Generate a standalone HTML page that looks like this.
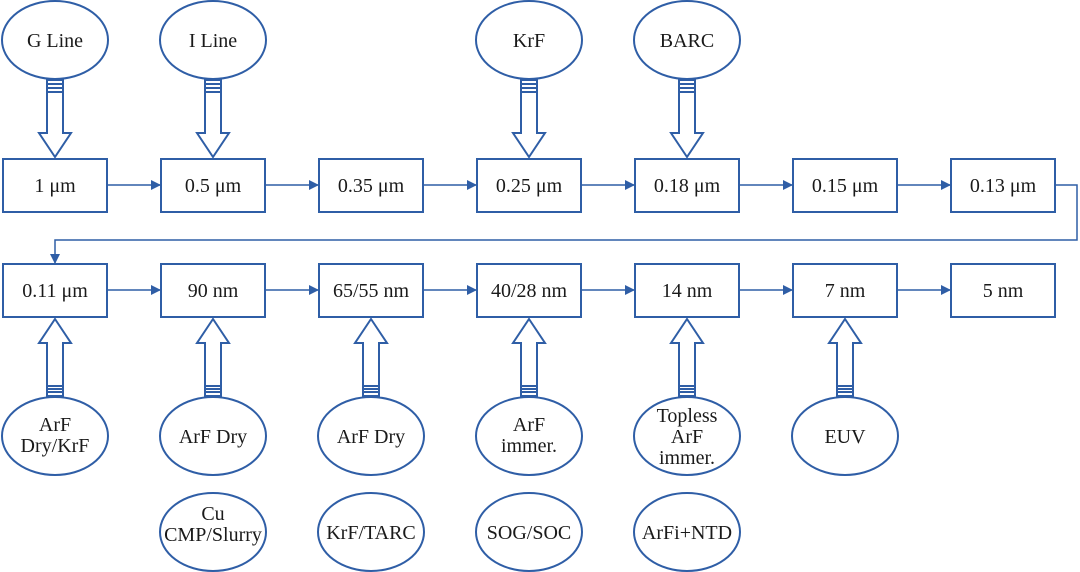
<!DOCTYPE html>
<html><head><meta charset="utf-8"><style>
html,body{margin:0;padding:0;background:#fff}
svg{display:block}
text{font-family:"Liberation Serif",serif;font-size:20px;fill:#1a1a1a;text-anchor:middle}
</style></head><body>
<svg width="1080" height="572" viewBox="0 0 1080 572" xmlns="http://www.w3.org/2000/svg">
<defs>
<marker id="ah" markerWidth="10" markerHeight="10" refX="9" refY="5" orient="auto" markerUnits="userSpaceOnUse">
<path d="M0,0 L10,5 L0,10 z" fill="#2f5ea6"/></marker>
<g id="dn" fill="#fff" stroke="#2f5ea6" stroke-width="2">
<rect x="-8" y="80" width="16" height="12"/>
<line x1="-8" y1="84" x2="8" y2="84"/><line x1="-8" y1="88" x2="8" y2="88"/>
<polygon points="-8,92 8,92 8,133 16,133 0,157 -16,133 -8,133"/>
</g>
<g id="up" fill="#fff" stroke="#2f5ea6" stroke-width="2">
<polygon points="0,319 16,343 8,343 8,386 -8,386 -8,343 -16,343"/>
<rect x="-8" y="386" width="16" height="10"/>
<line x1="-8" y1="389" x2="8" y2="389"/><line x1="-8" y1="392" x2="8" y2="392"/>
</g>
</defs>
<g fill="none" stroke="#2f5ea6" stroke-width="2">
<ellipse cx="55" cy="40" rx="53" ry="39"/>
<ellipse cx="213" cy="40" rx="53" ry="39"/>
<ellipse cx="529" cy="40" rx="53" ry="39"/>
<ellipse cx="687" cy="40" rx="53" ry="39"/>
<rect x="3" y="159" width="104" height="53"/>
<rect x="161" y="159" width="104" height="53"/>
<rect x="319" y="159" width="104" height="53"/>
<rect x="477" y="159" width="104" height="53"/>
<rect x="635" y="159" width="104" height="53"/>
<rect x="793" y="159" width="104" height="53"/>
<rect x="951" y="159" width="104" height="53"/>
<rect x="3" y="264" width="104" height="53"/>
<rect x="161" y="264" width="104" height="53"/>
<rect x="319" y="264" width="104" height="53"/>
<rect x="477" y="264" width="104" height="53"/>
<rect x="635" y="264" width="104" height="53"/>
<rect x="793" y="264" width="104" height="53"/>
<rect x="951" y="264" width="104" height="53"/>
<ellipse cx="55" cy="436" rx="53" ry="39"/>
<ellipse cx="213" cy="436" rx="53" ry="39"/>
<ellipse cx="371" cy="436" rx="53" ry="39"/>
<ellipse cx="529" cy="436" rx="53" ry="39"/>
<ellipse cx="687" cy="436" rx="53" ry="39"/>
<ellipse cx="845" cy="436" rx="53" ry="39"/>
<ellipse cx="213" cy="532" rx="53" ry="39"/>
<ellipse cx="371" cy="532" rx="53" ry="39"/>
<ellipse cx="529" cy="532" rx="53" ry="39"/>
<ellipse cx="687" cy="532" rx="53" ry="39"/>
</g>
<g stroke="#2f5ea6" stroke-width="1.5" fill="none" marker-end="url(#ah)">
<line x1="108" y1="185" x2="160" y2="185"/>
<line x1="266" y1="185" x2="318" y2="185"/>
<line x1="424" y1="185" x2="476" y2="185"/>
<line x1="582" y1="185" x2="634" y2="185"/>
<line x1="740" y1="185" x2="792" y2="185"/>
<line x1="898" y1="185" x2="950" y2="185"/>
<line x1="108" y1="290" x2="160" y2="290"/>
<line x1="266" y1="290" x2="318" y2="290"/>
<line x1="424" y1="290" x2="476" y2="290"/>
<line x1="582" y1="290" x2="634" y2="290"/>
<line x1="740" y1="290" x2="792" y2="290"/>
<line x1="898" y1="290" x2="950" y2="290"/>
<polyline points="1056,185 1077,185 1077,240 55,240 55,263"/>
</g>
<use href="#dn" x="55"/><use href="#dn" x="213"/><use href="#dn" x="529"/><use href="#dn" x="687"/>
<use href="#up" x="55"/><use href="#up" x="213"/><use href="#up" x="371"/><use href="#up" x="529"/><use href="#up" x="687"/><use href="#up" x="845"/>
<text x="55" y="47">G Line</text>
<text x="213" y="47">I Line</text>
<text x="529" y="47">KrF</text>
<text x="687" y="47">BARC</text>
<text x="55" y="192">1 μm</text>
<text x="213" y="192">0.5 μm</text>
<text x="371" y="192">0.35 μm</text>
<text x="529" y="192">0.25 μm</text>
<text x="687" y="192">0.18 μm</text>
<text x="845" y="192">0.15 μm</text>
<text x="1003" y="192">0.13 μm</text>
<text x="55" y="297">0.11 μm</text>
<text x="213" y="297">90 nm</text>
<text x="371" y="297">65/55 nm</text>
<text x="529" y="297">40/28 nm</text>
<text x="687" y="297">14 nm</text>
<text x="845" y="297">7 nm</text>
<text x="1003" y="297">5 nm</text>
<text x="55" y="431">ArF</text><text x="55" y="452">Dry/KrF</text>
<text x="213" y="443">ArF Dry</text>
<text x="371" y="443">ArF Dry</text>
<text x="529" y="431">ArF</text><text x="529" y="452">immer.</text>
<text x="687" y="422">Topless</text><text x="687" y="443">ArF</text><text x="687" y="464">immer.</text>
<text x="845" y="443">EUV</text>
<text x="213" y="520">Cu</text><text x="213" y="541">CMP/Slurry</text>
<text x="371" y="539">KrF/TARC</text>
<text x="529" y="539">SOG/SOC</text>
<text x="687" y="539">ArFi+NTD</text>
</svg>
</body></html>
